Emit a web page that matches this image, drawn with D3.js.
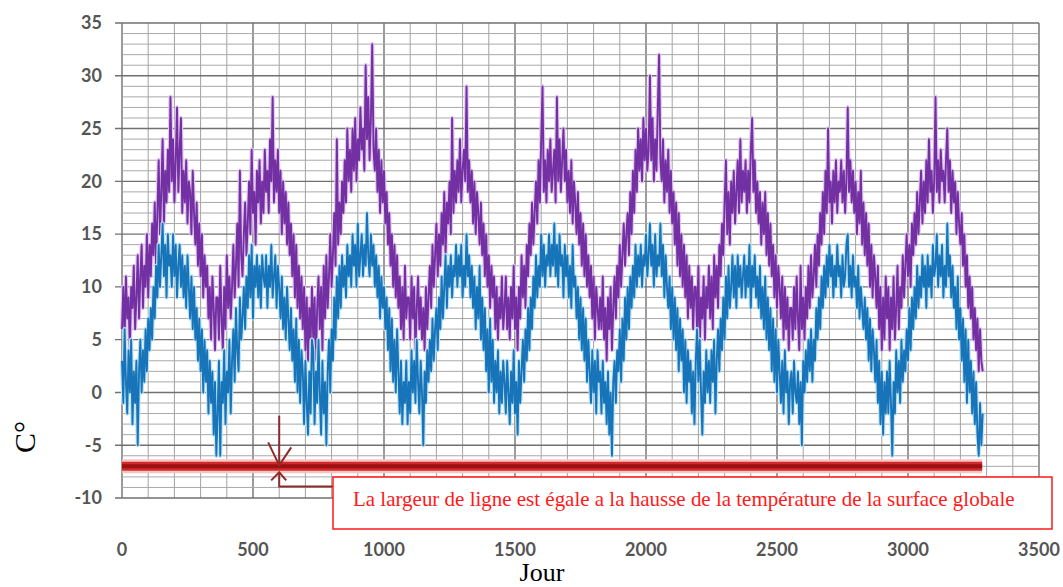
<!DOCTYPE html>
<html>
<head>
<meta charset="utf-8">
<script src="https://cdn.jsdelivr.net/npm/d3@7"></script>
<style>
  body { margin: 0; background: #fff; }
  svg { display: block; }
</style>
</head>
<body>
<script>
// readings every 5 days from day 0, one line per year (73 values)
var dayStep = 5;

// upper series (purple)
var tempHigh = [
  6,10,5,11,7,9,4,10,8,12,6, 9,13,7,11,14,8,12,10,15,9, 14,11,16,13,18,12,17,22,15,19, 24,16,21,18,23,19, 28,20,24,18,22,27,19,23,26,17, 21,18,22,16,20,19,15,21,17, 14,18,12,16,11,15,9,13,10, 12,7,10,5,11,8,4,9,
  9,5,12,7,4,10,6,13,8,11,7, 10,14,9,12,16,10,21,13,11,15, 18,13,16,20,15,23,17,19,14,21, 18,22,16,20,17,23, 19,21,17,24,20,28,18,22,19,23, 17,21,15,20,16,19,14,18,13, 16,11,15,9,14,8,12,7,11, 6,10,4,9,3,8,5,10,
  5,9,3,8,11,6,10,4,12,7,13, 8,11,15,10,13,17,12,24,14,18, 15,20,17,22,18,25,20,23,19,25, 21,26,20,24,22,27, 23,25,21,31,24,28,22,26,33,23, 21,25,19,23,17,22,18,21,16, 19,14,17,12,15,10,14,9,13, 8,11,6,10,5,12,7,9,
  9,5,11,7,10,4,8,11,6,9,5, 8,4,10,6,9,12,8,14,10,13, 16,11,15,12,17,14,19,13,18,16, 20,15,26,17,21,18, 22,19,24,18,21,23,20,29,19,22, 18,21,16,20,15,19,17,14,18, 13,16,11,15,10,13,8,12,9, 11,6,10,5,9,7,11,6,
  8,11,6,9,5,10,7,12,6,9,4, 10,7,13,9,12,8,14,11,16,13, 18,14,17,20,16,22,18,24,29,19, 22,18,23,20,24,19, 21,23,18,28,20,24,19,22,25,20, 23,18,21,17,22,16,20,18,15, 19,14,17,12,16,11,15,10,13, 9,12,7,11,5,10,8,6,
  9,6,11,5,8,3,9,6,10,4,8, 11,7,12,9,14,10,13,16,12,15, 17,13,19,15,21,17,23,19,25,21, 24,20,26,22,25,21, 23,30,22,26,20,24,21,27,32,22, 20,24,18,22,19,23,17,21,16, 19,14,18,12,17,11,15,10,14, 9,13,7,12,8,11,6,10,
  10,6,12,4,9,7,11,5,10,8,12, 7,11,6,13,9,12,8,14,11,16, 13,18,22,15,19,14,20,17,21,16, 19,22,17,24,18,21, 19,22,17,21,18,23,26,19,22,17, 20,16,19,14,18,15,19,13,17, 12,16,11,14,9,13,8,12,10, 7,11,5,10,6,9,4,8,
  8,5,10,6,11,7,4,12,6,9,5, 10,7,12,8,13,9,11,14,10,15, 12,17,14,19,15,21,17,25,18,20, 16,21,18,22,17,20, 19,22,18,21,17,20,27,19,22,18, 21,17,20,15,19,16,21,14,18, 13,17,12,16,10,14,9,13,11, 8,12,6,10,4,9,5,11,
  7,10,4,9,6,11,5,8,12,6,10, 8,13,9,12,15,11,14,10,16,13, 17,14,19,15,18,21,16,20,17,22, 18,24,19,21,17,20, 28,19,22,18,23,20,21,18,22,25, 19,22,17,21,18,20,15,19,16, 14,17,12,15,10,13,8,11,7, 10,5,8,4,7,2,6,3,2
];

// lower series (blue)
var tempLow = [
  3,-1,6,1,-2,4,0,5,-3,2,-1, 3,-5,2,5,0,4,1,6,2,7, 4,8,5,10,7,12,9,14,10,13, 16,11,14,9,15,12, 13,10,15,11,14,9,12,14,10,13, 9,12,8,13,10,7,11,6,10, 5,8,3,7,2,6,0,5,1, 4,-2,3,-1,2,-4,1,-6,
  -2,3,-6,1,-1,4,-3,2,0,5,-2, 3,6,1,8,4,2,9,5,7,10, 6,11,8,13,9,14,7,12,10,13, 9,12,8,13,11,10, 13,8,12,10,14,9,11,13,8,12, 10,7,11,6,9,5,10,7,4, 8,3,6,1,7,0,5,-1,4, 2,-3,3,-1,-4,2,-2,5,
  4,-3,2,-1,5,0,-4,3,-2,1,-5, 2,5,0,6,3,9,5,11,7,12, 8,13,10,12,9,14,11,13,10,15, 12,14,10,16,11,13, 15,11,14,12,17,13,11,15,12,14, 10,13,9,12,7,11,8,10,6, 9,4,8,2,7,1,5,0,6, 2,-2,3,-3,1,-1,3,-3,
  1,-2,4,0,3,-1,5,1,-2,3,0, -5,2,-1,4,1,5,2,7,3,6, 8,4,9,6,11,7,10,13,8,12, 10,13,9,12,11,14, 10,13,11,14,9,12,10,15,11,13, 9,12,8,11,6,10,7,12,5, 9,4,8,2,6,0,7,1,5, -1,3,0,4,-2,2,-1,3,
  1,-2,3,0,-3,2,-1,4,-2,1,-4, 3,-1,2,5,1,6,3,8,4,9, 6,11,8,13,9,12,10,15,11,14, 10,13,12,15,11,14, 12,16,11,14,10,15,12,13,9,14, 11,13,9,12,8,14,10,11,7, 10,5,9,4,8,3,7,1,5, 2,-1,4,0,3,-2,4,1,
  2,-2,3,-1,1,-3,2,-4,0,-6,1, 3,-1,4,2,6,1,7,3,9,5, 10,6,11,8,12,9,14,10,13,11, 14,10,13,12,15,11, 13,16,12,14,10,15,11,13,12,16, 11,14,9,13,10,8,11,6,10, 5,9,4,8,2,7,3,6,0, 5,-1,4,1,3,-2,2,-3,
  3,6,1,5,0,-4,2,-1,4,0,3, -1,4,1,5,-2,3,6,2,7,4, 9,5,11,7,12,8,10,13,9,12, 8,13,10,12,9,11, 13,9,12,10,14,8,12,10,13,9, 11,8,12,7,10,6,11,5,9, 4,8,2,7,1,6,0,5,2, -1,3,-2,4,0,2,-3,1,
  2,-2,3,0,-1,2,-3,1,-5,3,0, 4,1,5,2,6,1,5,3,8,5, 9,6,11,8,12,9,13,10,14,11, 13,9,12,10,14,11, 12,9,13,10,11,14,15,10,12,9, 13,10,11,8,12,7,10,8,6, 9,5,8,3,7,2,6,4,1, 5,-1,3,-3,2,-4,1,-2,
  2,-2,3,-1,-6,1,-2,4,0,3,-1, 5,1,4,2,6,3,8,4,9,6, 10,7,12,8,11,9,13,10,12,8, 13,10,12,9,14,11, 12,15,10,13,11,14,9,12,10,16, 11,13,9,12,8,10,6,11,5, 8,3,7,1,6,-1,5,0,3, -2,2,-3,1,-4,-6,-1,-5,-2
];

var xTicks = [0, 500, 1000, 1500, 2000, 2500, 3000, 3500];
var yTicks = [-10, -5, 0, 5, 10, 15, 20, 25, 30, 35];

// the thick red line and its annotation
var bandValue = -7;
var bandEnd = 3283;
var arrowDay = 600;
var note = "La largeur de ligne est égale a la hausse de la température de la surface globale";

var width = 1063, height = 587;
var margin = {left: 122, right: 24, top: 23, bottom: 89};

var svg = d3.select("body").append("svg")
    .attr("width", width)
    .attr("height", height);

var x = d3.scaleLinear().domain([0, 3500]).range([margin.left, width - margin.right]);
var y = d3.scaleLinear().domain([-10, 35]).range([height - margin.bottom, margin.top]);

var grid = svg.append("g");

// grid, darker every 500 days / 5 degrees
grid.selectAll(".vmin").data(d3.range(0, 3501, 100)).enter().append("line")
    .attr("x1", d => x(d)).attr("x2", d => x(d))
    .attr("y1", y(-10)).attr("y2", y(35))
    .attr("stroke", d => d % 500 === 0 ? "#707070" : "#a2a2a2")
    .attr("stroke-width", d => d % 500 === 0 ? 1.4 : 1);

grid.selectAll(".hmin").data(d3.range(-10, 36, 1)).enter().append("line")
    .attr("x1", d => d % 5 === 0 ? x(0) - 7 : x(0)).attr("x2", x(3500))
    .attr("y1", d => y(d)).attr("y2", d => y(d))
    .attr("stroke", d => d % 5 === 0 ? "#707070" : "#a8a8a8")
    .attr("stroke-width", d => d % 5 === 0 ? 1.4 : 1);

// tick labels
svg.selectAll(".ylab").data(yTicks).enter().append("text")
    .attr("x", 102).attr("y", d => y(d))
    .attr("dy", "0.35em")
    .attr("text-anchor", "end")
    .attr("font-family", "Lato, 'Open Sans', sans-serif")
    .attr("font-weight", "bold")
    .attr("font-size", 18)
    .attr("fill", "#555")
    .text(d => d);

svg.selectAll(".xlab").data(xTicks).enter().append("text")
    .attr("x", d => x(d)).attr("y", 556)
    .attr("text-anchor", "middle")
    .attr("font-family", "Lato, 'Open Sans', sans-serif")
    .attr("font-weight", "bold")
    .attr("font-size", 18)
    .attr("fill", "#555")
    .text(d => d);

// the two series, each with a soft halo under it
var line = d3.line()
    .x((d, i) => x(i * dayStep))
    .y(d => y(d));

function drawSeries(data, halo, color) {
    svg.append("path").datum(data)
        .attr("d", line)
        .attr("fill", "none")
        .attr("stroke", halo)
        .attr("stroke-width", 4.2)
        .attr("stroke-linejoin", "round");
    svg.append("path").datum(data)
        .attr("d", line)
        .attr("fill", "none")
        .attr("stroke", color)
        .attr("stroke-width", 1.9)
        .attr("stroke-linejoin", "round");
}
drawSeries(tempHigh, "#e2c6ef", "#7330a2");
drawSeries(tempLow, "#bfe4f6", "#1874b9");

// thick red line
[[14, "#f7c4c4"], [9, "#d22a2a"], [4, "#9e1111"]].forEach(function(s) {
    svg.append("line")
        .attr("x1", x(0)).attr("x2", x(bandEnd))
        .attr("y1", y(bandValue)).attr("y2", y(bandValue))
        .attr("stroke", s[1])
        .attr("stroke-width", s[0]);
});

// arrows
var ax = x(arrowDay);
var arrow = svg.append("g")
    .attr("fill", "none")
    .attr("stroke", "#8e2a2a")
    .attr("stroke-width", 2);
arrow.append("line").attr("x1", ax).attr("x2", ax).attr("y1", y(-2.2)).attr("y2", y(bandValue) - 1);
arrow.append("path").attr("d", "M" + (ax - 11) + "," + (y(bandValue) - 24) + "L" + ax + "," + (y(bandValue) - 1) + "L" + (ax + 12) + "," + (y(bandValue) - 19));
arrow.append("path").attr("d", "M" + (ax - 8) + "," + (y(bandValue) + 14) + "L" + ax + "," + (y(bandValue) + 6) + "L" + (ax + 7) + "," + (y(bandValue) + 14));
arrow.append("path").attr("d", "M" + ax + "," + (y(bandValue) + 6) + "L" + ax + "," + y(-8.9) + "L333," + y(-8.9));

// note box
svg.append("rect")
    .attr("x", 333).attr("y", 477)
    .attr("width", 719).attr("height", 52)
    .attr("fill", "#fff")
    .attr("stroke", "#ff1a1a")
    .attr("stroke-width", 1.5);

var noteText = svg.append("text")
    .attr("x", 353).attr("y", 506)
    .attr("font-family", "'Liberation Serif', 'Times New Roman', serif")
    .attr("font-size", 19)
    .attr("fill", "#ff1a1a")
    .text(note);
var tl = noteText.node().getComputedTextLength();
noteText.attr("font-size", 19 * 662 / tl);

// axis titles
svg.append("text")
    .attr("transform", "translate(35,437) rotate(-90)")
    .attr("text-anchor", "middle")
    .attr("font-family", "'Liberation Serif', 'Times New Roman', serif")
    .attr("font-size", 30)
    .attr("fill", "#000")
    .text("C°");

svg.append("text")
    .attr("x", 542).attr("y", 581)
    .attr("text-anchor", "middle")
    .attr("font-family", "'Liberation Serif', 'Times New Roman', serif")
    .attr("font-size", 26)
    .attr("fill", "#000")
    .text("Jour");
</script>
</body>
</html>
